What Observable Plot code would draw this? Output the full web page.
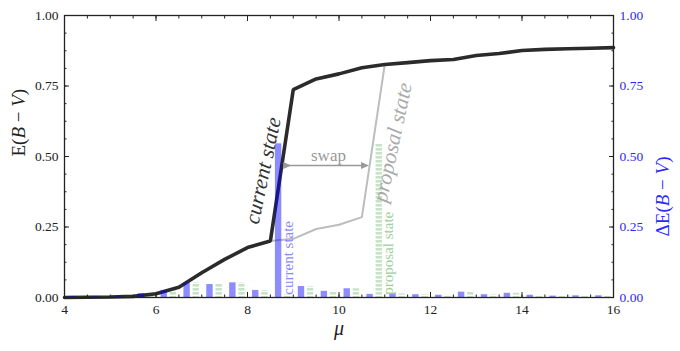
<!DOCTYPE html>
<html><head><meta charset="utf-8">
<script src="https://cdn.jsdelivr.net/npm/d3@7"></script>
<script src="https://cdn.jsdelivr.net/npm/@observablehq/plot@0.6"></script>
<style>
body{margin:0;background:#fff}
#chart svg{display:block;font-family:"Liberation Serif","DejaVu Serif",serif;font-size:13.5px;}
</style>
</head><body>
<svg width="0" height="0" style="position:absolute"><defs>
<pattern id="hatch" width="4" height="4" patternUnits="userSpaceOnUse"><rect x="0" y="0" width="4" height="2.6" fill="#008000" fill-opacity="0.22"/></pattern>
</defs></svg>
<div id="chart"></div>
<script>
// bin starts (mu)
const binStarts = [4,4.5,5,5.5,6,6.5,7,7.5,8,8.5,9,9.5,10,10.5,11,11.5,12,12.5,13,13.5,14,14.5,15,15.5];
// Delta E(B-V) per bin, current state (blue) and proposal state (green hatched)
const deltaCurrent  = [0.004,0.004,0.004,0.014,0.025,0.052,0.046,0.052,0.025,0.545,0.039,0.022,0.031,0.011,0.013,0.010,0.008,0.019,0.010,0.015,0.008,0.005,0.006,0.006];
const deltaProposal = [0.004,0.004,0.004,0.014,0.025,0.052,0.046,0.052,0.025,0.011,0.039,0.022,0.031,0.545,0.013,0.010,0.008,0.019,0.010,0.015,0.008,0.005,0.006,0.006];
// cumulative E(B-V), current state
const muGrid   = [4,4.5,5,5.5,6,6.5,7,7.5,8,8.5,9,9.5,10,10.5,11,11.5,12,12.5,13,13.5,14,14.5,15,15.5,16];
const eCurrent = [0,0.001,0.002,0.004,0.013,0.036,0.088,0.135,0.177,0.200,0.737,0.775,0.793,0.815,0.826,0.833,0.840,0.844,0.858,0.865,0.876,0.880,0.882,0.884,0.886];
// proposal state (differs only between 8.5 and 11)
const muProposal = [8.5,9,9.5,10,10.5,11];
const eProposal  = [0.200,0.208,0.243,0.258,0.285,0.826];
// ticks
const xTicks = [4,6,8,10,12,14,16];
const xMinor = d3.range(4,16.01,0.5);
const yTicks = [0,0.25,0.5,0.75,1];
const yMinor = d3.range(0,1.001,0.0625);
// annotations
const swapLabel = {text:"swap", mu:9.77, e:0.505};
const swapArrow = {mu1:8.88, mu2:10.58, e:0.468};
const bigLabels = [
  {text:"current state", mu:8.34, e:0.45, color:"#333"},
  {text:"proposal state", mu:11.17, e:0.55, color:"#aaa"}
];
const smallLabels = [
  {text:"current state", mu:8.9, e:0.01, color:"#8a8aff"},
  {text:"proposal state", mu:11.08, e:0.01, color:"#9fcf9f"}
];

const bins = binStarts.map((s,i)=>({s, cur:deltaCurrent[i], prop:deltaProposal[i]}));
const curLine = muGrid.map((m,i)=>({m, e:eCurrent[i]}));
const propLine = muProposal.map((m,i)=>({m, e:eProposal[i]}));
const ink = "#222";
const blueInk = "#2a2aff";

const chart = Plot.plot({
  width:680, height:351,
  marginLeft:64, marginRight:67, marginTop:15, marginBottom:54,
  style:{background:"#fff", color:ink},
  x:{domain:[4,16]},
  y:{domain:[0,1]},
  marks:[
    Plot.line(propLine, {x:"m", y:"e", stroke:"#bdbdbd", strokeWidth:2}),
    Plot.line(curLine, {x:"m", y:"e", stroke:"#2b2b2b", strokeWidth:3.6, strokeLinejoin:"miter"}),
    Plot.rectY(bins, {x1:d=>d.s+0.11, x2:d=>d.s+0.25, y1:0, y2:"cur", fill:"blue", fillOpacity:0.45}),
    Plot.rectY(bins, {x1:d=>d.s+0.31, x2:d=>d.s+0.45, y1:0, y2:"prop", fill:"url(#hatch)"}),
    Plot.link([swapArrow], {x1:"mu1", x2:"mu2", y1:"e", y2:"e", stroke:"#999", strokeWidth:1.5, markerStart:"arrow", markerEnd:"arrow"}),
    Plot.text([swapLabel], {x:"mu", y:"e", text:"text", fill:"#999", fontSize:17}),
    Plot.text(bigLabels, {x:"mu", y:"e", text:"text", fill:"color", fontSize:21.5, fontStyle:"italic", rotate:-78}),
    Plot.text(smallLabels, {x:"mu", y:"e", text:"text", fill:"color", fontSize:15, rotate:-90, textAnchor:"start"}),
    Plot.frame({stroke:ink, strokeWidth:1.3}),
    Plot.axisX({anchor:"bottom", ticks:xTicks, tickSize:-5, tickPadding:12, stroke:ink, fill:ink, label:null, fontSize:13.5}),
    Plot.axisX({anchor:"bottom", ticks:xMinor, tickSize:-2.5, stroke:ink, fill:"none", label:null}),
    Plot.axisX({anchor:"top", ticks:xTicks, tickSize:-5, stroke:ink, fill:"none", label:null}),
    Plot.axisX({anchor:"top", ticks:xMinor, tickSize:-2.5, stroke:ink, fill:"none", label:null}),
    Plot.axisY({anchor:"left", ticks:yTicks, tickFormat:d3.format(".2f"), tickSize:-5, tickPadding:11, stroke:ink, fill:ink, label:null, fontSize:13.5}),
    Plot.axisY({anchor:"left", ticks:yMinor, tickSize:-2.5, stroke:ink, fill:"none", label:null}),
    Plot.axisY({anchor:"right", ticks:yTicks, tickFormat:d3.format(".2f"), tickSize:-5, tickPadding:11, stroke:ink, fill:blueInk, label:null, fontSize:13.5}),
    Plot.axisY({anchor:"right", ticks:yMinor, tickSize:-2.5, stroke:ink, fill:"none", label:null}),
    Plot.text(["E(B − V)"], {frameAnchor:"left", dx:-46, rotate:-90, fontSize:19, fill:ink}),
    Plot.text(["ΔE(B − V)"], {frameAnchor:"right", dx:49, rotate:-90, fontSize:19, fill:blueInk}),
    Plot.text(["μ"], {frameAnchor:"bottom", dy:37, fontSize:20, fontStyle:"italic", fill:ink})
  ]
});
document.getElementById("chart").appendChild(chart);
// italicise B and V in the axis labels
d3.select(chart).selectAll("text").each(function(){
  const t = this.textContent;
  if (t === "E(B − V)" || t === "ΔE(B − V)") {
    const pre = t.startsWith("Δ") ? "ΔE(" : "E(";
    const el = d3.select(this);
    el.text(null);
    el.append("tspan").text(pre);
    el.append("tspan").attr("font-style","italic").text("B");
    el.append("tspan").text(" − ");
    el.append("tspan").attr("font-style","italic").text("V");
    el.append("tspan").text(")");
  }
});
// solid triangular arrow heads like the reference
d3.select(chart).selectAll("marker path")
  .attr("d","M-4.5,-3.5L3.5,0L-4.5,3.5Z")
  .attr("fill","#999").attr("stroke","none");
</script>
</body></html>
